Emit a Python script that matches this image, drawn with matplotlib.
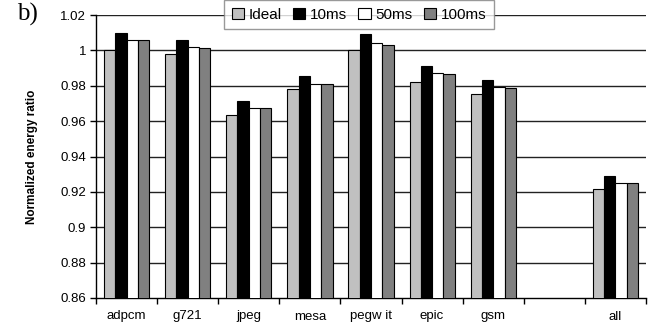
import matplotlib
matplotlib.use("Agg")
import matplotlib.pyplot as plt
import numpy as np

categories = ["adpcm", "g721", "jpeg", "mesa", "pegw it", "epic", "gsm", "", "all"]
series_names = ["Ideal", "10ms", "50ms", "100ms"]
ideal = [1.000, 0.998, 0.9636, 0.9779, 1.000, 0.9824, 0.9753, np.nan, 0.9219]
ms10 = [1.0098, 1.0056, 0.9715, 0.9853, 1.0092, 0.9911, 0.9832, np.nan, 0.9292]
ms50 = [1.0056, 1.0017, 0.9675, 0.9809, 1.0040, 0.9873, 0.9792, np.nan, 0.9251]
ms100 = [1.0056, 1.0011, 0.9675, 0.9810, 1.0032, 0.9864, 0.9786, np.nan, 0.9251]
yticks = [0.86, 0.88, 0.9, 0.92, 0.94, 0.96, 0.98, 1.0, 1.02]
ytick_labels = ["0.86", "0.88", "0.9", "0.92", "0.94", "0.96", "0.98", "1", "1.02"]

colors = ["#c0c0c0", "#000000", "#ffffff", "#808080"]

plt.rcParams['font.family'] = ['Liberation Sans', 'DejaVu Sans']

fig = plt.figure(figsize=(6.5, 3.27), dpi=100)
ax = fig.add_axes([96/650, 1-298/327, 550/650, (298-15)/327])

x = np.arange(len(categories))
w = 0.185
for k, (vals, c, name) in enumerate(zip([ideal, ms10, ms50, ms100], colors, series_names)):
    ax.bar(x + (k - 1.5) * w, vals, width=w, color=c, edgecolor="black",
           linewidth=0.8, label=name, zorder=3)

ax.set_xlim(-0.5, len(categories) - 0.5)
ax.set_ylim(0.86, 1.02)
ax.set_yticks(yticks)
ax.set_yticklabels(ytick_labels, fontsize=9.5)
for yv in yticks[1:]:
    ax.axhline(yv, color="#222222", linewidth=1.0, zorder=1)

ax.set_xticks(x)
ax.set_xticklabels(categories, fontsize=9.5)
ax.tick_params(axis='x', which='major', length=0, pad=9)
ax.set_xticks(np.arange(-0.5, len(categories), 1.0), minor=True)
ax.tick_params(axis='x', which='minor', length=4, width=1, direction='out')
ax.tick_params(axis='y', length=4, width=1, direction='out', pad=3)

for s in ["top", "right"]:
    ax.spines[s].set_visible(False)
ax.spines["left"].set_linewidth(1)
ax.spines["bottom"].set_linewidth(1)

ax.set_ylabel("Normalized energy ratio", fontsize=8.5, fontweight="bold", labelpad=16)

leg = fig.legend(loc="upper center", bbox_to_anchor=(359/650, 1.0), ncol=4,
                 fontsize=11, frameon=True, fancybox=False, handlelength=0.8,
                 handleheight=0.8, handletextpad=0.3, columnspacing=0.75,
                 borderpad=0.5, borderaxespad=0)
leg.get_frame().set_edgecolor("#808080")
leg.get_frame().set_linewidth(1)

fig.text(17/650, 1-3/327, "b)", fontsize=18, family="Liberation Serif",
         ha="left", va="top")

fig.savefig("out.png", dpi=100)
